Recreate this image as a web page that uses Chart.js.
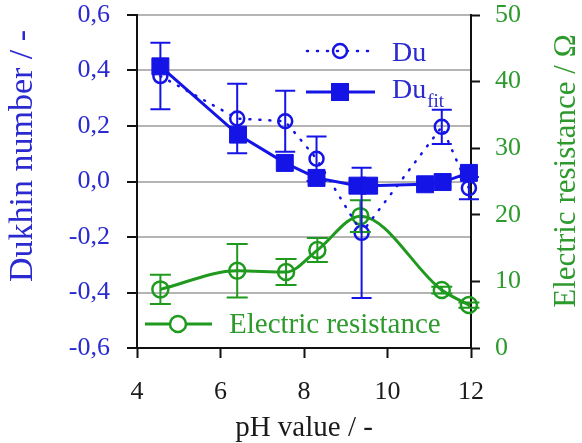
<!DOCTYPE html>
<html><head><meta charset="utf-8">
<script src="https://cdn.jsdelivr.net/npm/chart.js@4/dist/chart.umd.min.js"></script>
<style>html,body{margin:0;padding:0;background:#fff}</style>
</head><body>
<canvas id="c" width="582" height="443"></canvas>
<script>
// ---- data ----
const phDu = [4.56, 6.4, 7.55, 8.3, 9.38, 11.3, 11.95];
const duValues = [0.38, 0.227, 0.217, 0.082, -0.185, 0.197, -0.024];
const duErrors = [0.12, 0.125, 0.11, 0.08, 0.235, 0.062, 0.04];

const phFit = [4.56, 6.42, 7.54, 8.3, 9.28, 9.56, 10.9, 11.32, 11.95];
const duFitValues = [0.415, 0.169, 0.067, 0.013, -0.015, -0.015, -0.01, -0.002, 0.031];

const phRes = [4.56, 6.4, 7.57, 8.32, 9.35, 11.3, 11.95];
const resValues = [8.8, 11.6, 11.4, 14.7, 19.8, 8.7, 6.45];
const resErrors = [2.2, 4.0, 1.95, 1.8, 2.4, 0.5, 0.4];

const xTicks = [4, 6, 8, 10, 12];
const duTicks = [-0.6, -0.4, -0.2, 0.0, 0.2, 0.4, 0.6];
const duTickLabels = ['-0,6', '-0,4', '-0,2', '0,0', '0,2', '0,4', '0,6'];
const resTicks = [0, 10, 20, 30, 40, 50];

const seriesNames = ['Du', 'Du', 'Electric resistance'];
const xTitle = 'pH value / -';
const yTitle = 'Dukhin number / -';
const y1Title = 'Electric resistance / \u03A9';

// ---- styles ----
const BLUE = '#1414e6';
const BLUE_TXT = '#2a2ad0';
const GREEN = '#1f9a1f';
const GREEN_TXT = '#2e9a2e';
const FONT = '"Liberation Serif", "Times New Roman", serif';

const pts = (xs, ys) => xs.map((x, i) => ({x, y: ys[i]}));

const errorBars = {
  id: 'errorBars',
  afterDatasetsDraw(chart) {
    const ctx = chart.ctx, xs = chart.scales.x;
    const draw = (px, ys, es, scale, color, cap) => {
      ctx.save();
      ctx.strokeStyle = color; ctx.lineWidth = 2;
      px.forEach((xv, i) => {
        const X = xs.getPixelForValue(xv);
        const T = scale.getPixelForValue(ys[i] + es[i]);
        const B = scale.getPixelForValue(ys[i] - es[i]);
        ctx.beginPath();
        ctx.moveTo(X, T); ctx.lineTo(X, B);
        ctx.moveTo(X - cap, T); ctx.lineTo(X + cap, T);
        ctx.moveTo(X - cap, B); ctx.lineTo(X + cap, B);
        ctx.stroke();
      });
      ctx.restore();
    };
    draw(phRes, resValues, resErrors, chart.scales.y1, GREEN, 10.5);
    draw(phDu, duValues, duErrors, chart.scales.y, BLUE, 10);
  }
};

const customText = {
  id: 'customText',
  afterDraw(chart) {
    const ctx = chart.ctx, a = chart.chartArea;
    ctx.save();
    // y titles
    ctx.textAlign = 'center'; ctx.textBaseline = 'middle';
    ctx.font = '34px ' + FONT; ctx.fillStyle = BLUE_TXT;
    ctx.save(); ctx.translate(23, a.top + 141); ctx.rotate(-Math.PI / 2); ctx.fillText(yTitle, 0, 0); ctx.restore();
    ctx.font = '31px ' + FONT; ctx.fillStyle = GREEN_TXT;
    ctx.save(); ctx.translate(567, a.top + 156); ctx.rotate(-Math.PI / 2); ctx.fillText(y1Title, 0, 0); ctx.restore();

    // legend: Du
    const lx = a.left + 170, ly1 = a.top + 36, ly2 = a.top + 77;
    ctx.strokeStyle = BLUE; ctx.lineWidth = 2.5; ctx.lineCap = 'round';
    ctx.setLineDash([1, 9]);
    ctx.beginPath(); ctx.moveTo(lx, ly1); ctx.lineTo(lx + 63, ly1); ctx.stroke();
    ctx.setLineDash([]); ctx.lineCap = 'butt';
    ctx.beginPath(); ctx.arc(lx + 33, ly1, 7, 0, Math.PI * 2); ctx.stroke();
    // legend: Du_fit
    ctx.lineWidth = 3;
    ctx.beginPath(); ctx.moveTo(lx - 1, ly2); ctx.lineTo(lx + 68, ly2); ctx.stroke();
    ctx.fillStyle = BLUE; ctx.fillRect(lx + 24, ly2 - 9, 18, 18);
    ctx.fillStyle = BLUE_TXT; ctx.textAlign = 'left'; ctx.textBaseline = 'alphabetic';
    ctx.font = '28px ' + FONT;
    ctx.fillText(seriesNames[0], lx + 85, ly1 + 10);
    ctx.fillText(seriesNames[1], lx + 85, ly2 + 6);
    const w = ctx.measureText(seriesNames[1]).width;
    ctx.font = '19px ' + FONT;
    ctx.fillText('fit', lx + 85 + w + 1, ly2 + 15);
    // legend: resistance
    const gx = a.left + 8, gy = a.top + 309;
    ctx.strokeStyle = GREEN; ctx.lineWidth = 3;
    ctx.beginPath(); ctx.moveTo(gx, gy); ctx.lineTo(gx + 67, gy); ctx.stroke();
    ctx.lineWidth = 2.5; ctx.fillStyle = '#fff';
    ctx.beginPath(); ctx.arc(gx + 33, gy, 8, 0, Math.PI * 2); ctx.fill(); ctx.stroke();
    ctx.fillStyle = GREEN_TXT; ctx.font = '29px ' + FONT; ctx.textBaseline = 'middle';
    ctx.fillText(seriesNames[2], gx + 84, gy + 1);
    ctx.restore();
  }
};

const fixV = (w) => (s) => { s.width = w; s.paddingTop = 15; s.paddingBottom = 15; };

new Chart(document.getElementById('c'), {
  type: 'scatter',
  data: {
    datasets: [
      {
        label: seriesNames[0], data: pts(phDu, duValues), yAxisID: 'y', showLine: true,
        borderColor: BLUE, borderWidth: 2.5, borderDash: [1, 9], borderCapStyle: 'round',
        pointStyle: 'circle', pointRadius: 7, pointBorderWidth: 2.5,
        pointBorderColor: BLUE, pointBackgroundColor: 'rgba(0,0,0,0)', tension: 0, clip: false
      },
      {
        label: seriesNames[1] + 'fit', data: pts(phFit, duFitValues), yAxisID: 'y', showLine: true,
        borderColor: BLUE, borderWidth: 3, pointStyle: 'rect', pointRadius: 12,
        pointBorderWidth: 1, pointBorderColor: BLUE, pointBackgroundColor: BLUE, tension: 0, clip: false
      },
      {
        label: seriesNames[2], data: pts(phRes, resValues), yAxisID: 'y1', showLine: true,
        borderColor: GREEN, borderWidth: 3, pointStyle: 'circle', pointRadius: 8, pointBorderWidth: 2.5,
        pointBorderColor: GREEN, pointBackgroundColor: 'rgba(0,0,0,0)',
        cubicInterpolationMode: 'monotone', clip: false
      }
    ]
  },
  options: {
    responsive: false, animation: false, devicePixelRatio: 1,
    events: [],
    layout: { padding: { top: 0, left: 0, right: 0, bottom: 0 } },
    plugins: { legend: { display: false }, tooltip: { enabled: false } },
    scales: {
      x: {
        type: 'linear', min: 4, max: 12,
        afterBuildTicks: s => { s.ticks = xTicks.map(v => ({value: v})); },
        afterFit: s => { s.height = 95; s.paddingLeft = 0; s.paddingRight = 0; },
        grid: { drawOnChartArea: false, tickLength: 10, tickColor: '#111', tickWidth: 2 },
        border: { color: '#111', width: 2 },
        ticks: { color: '#1a1a1a', padding: 20, font: { family: FONT, size: 26, lineHeight: 1.1 }, maxRotation: 0 },
        title: { display: true, text: xTitle, color: '#1a1a1a', padding: { top: 0, bottom: 0 },
                 font: { family: FONT, size: 29, lineHeight: 1.0 } }
      },
      y: {
        type: 'linear', position: 'left', min: -0.6, max: 0.6,
        afterBuildTicks: s => { s.ticks = duTicks.map(v => ({value: v})); },
        afterFit: fixV(137),
        grid: { color: (c) => (c.tick && c.tick.value === -0.6) ? '#111' : '#b4b4b4', lineWidth: 2,
                tickLength: 10, tickColor: '#111', tickWidth: 2 },
        border: { color: '#111', width: 2 },
        ticks: { color: BLUE_TXT, padding: 17, font: { family: FONT, size: 26, lineHeight: 1.1 },
                 callback: (v, i) => duTickLabels[i] }
      },
      y1: {
        type: 'linear', position: 'right', min: 0, max: 50,
        afterBuildTicks: s => { s.ticks = resTicks.map(v => ({value: v})); },
        afterFit: fixV(111),
        grid: { drawOnChartArea: false, tickLength: 9, tickColor: '#111', tickWidth: 2 },
        border: { color: '#111', width: 2 },
        ticks: { color: GREEN_TXT, padding: 15, font: { family: FONT, size: 26, lineHeight: 1.1 } }
      }
    }
  },
  plugins: [errorBars, customText]
});
</script>
</body></html>
